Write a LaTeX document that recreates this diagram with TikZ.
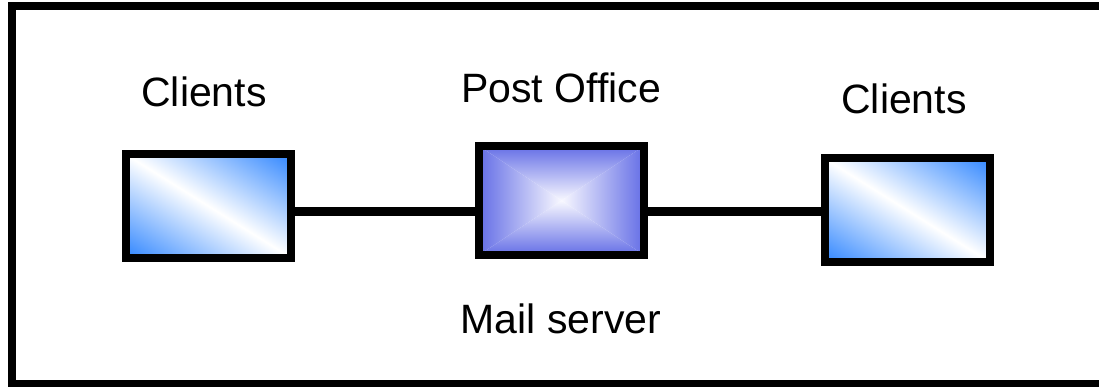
\documentclass[tikz,border=0pt]{standalone}
\usepackage{fontspec}
\setmainfont{Liberation Sans}
\usetikzlibrary{backgrounds,calc}

\definecolor{clientblue}{RGB}{50,135,255}
\definecolor{postedge}{RGB}{100,110,230}
\definecolor{postmid}{RGB}{248,248,255}

\tikzset{
  frameline/.style={line width=8pt, black},
  link/.style={line width=9pt, black},
  box/.style={draw=black, line width=8pt, inner sep=0pt, outer sep=0pt, rectangle},
  clientbox/.style={box, minimum width=165pt, minimum height=104pt},
  officebox/.style={box, minimum width=165pt, minimum height=109pt},
  label/.style={anchor=base, inner sep=0pt, font=\fontsize{41}{49}\selectfont}
}

% diagonal blue-white-blue fill of a client box: in the sheared frame the
% box is the diamond below and the colour runs along its long axis, so the
% white band lies on the top-left to bottom-right diagonal of the box
% (kept 1pt inside the centre of the border line)
\newcommand\clientfill[1]{%
  \begin{scope}[transform canvas={cm={8.15,5.1,8.15,-5.1,($(#1.south west)+(1,-1)$)}}]
    \shade[left color=clientblue, right color=clientblue, middle color=white]
      (0,0) -- (10,-10) -- (20,0) -- (10,10) -- cycle;
  \end{scope}}

\begin{document}
\begin{tikzpicture}[x=1pt, y=-1pt]
  \useasboundingbox (0,0) rectangle (1099,387);

  % outer frame, open to the right
  \draw[frameline] (1110,6) -- (12,6) -- (12,384) -- (1110,384);

  % mail boxes
  \node[clientbox] (lc) at (208.5,206) {};
  \node[officebox] (po) at (561.5,200.5) {};
  \node[clientbox] (rc) at (907,210) {};

  \begin{scope}[on background layer]
    \clientfill{lc}
    \clientfill{rc}
    % pyramid shading of the post office box
    \shade[top color=postedge, bottom color=postmid]
      (po.north west) -- (po.north east) -- (po.center) -- cycle;
    \shade[top color=postmid, bottom color=postedge]
      (po.south west) -- (po.south east) -- (po.center) -- cycle;
    \shade[left color=postedge, right color=postmid]
      (po.north west) -- (po.south west) -- (po.center) -- cycle;
    \shade[left color=postmid, right color=postedge]
      (po.north east) -- (po.south east) -- (po.center) -- cycle;
  \end{scope}

  % connections
  \coordinate (lvl) at (0,212);
  \draw[link] (lc.east |- lvl) -- (po.west |- lvl);
  \draw[link] (po.east |- lvl) -- (rc.west |- lvl);

  % labels
  \node[label] (t1) at (204,107) {Clients};
  \node[label] (t2) at (561,103) {Post Office};
  \node[label] (t3) at (904,114) {Clients};
  \node[label] (t4) at (561,333) {Mail server};
\end{tikzpicture}
\end{document}
